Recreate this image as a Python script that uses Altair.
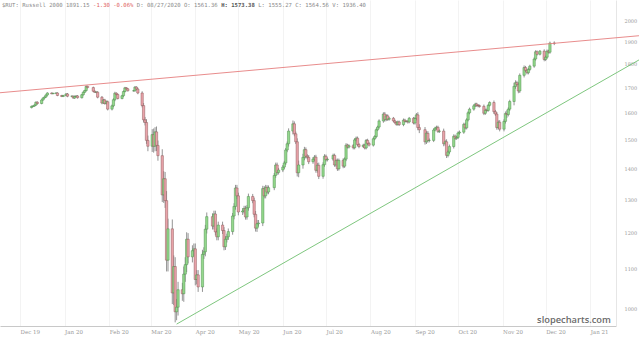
import altair as alt
import pandas as pd

# ---------------- data ----------------
holidays = ["2019-12-25", "2020-01-01", "2020-01-20", "2020-02-17", "2020-04-10",
            "2020-05-25", "2020-07-03", "2020-09-07", "2020-11-26"]

close_dec19 = [1625, 1626, 1630, 1641, 1636, 1650, 1658, 1662, 1670, 1678, 1675, 1677, 1678, 1668, 1664, 1668]
close_jan = [1674, 1665, 1665, 1658, 1664, 1666, 1659, 1671, 1681, 1688, 1705, 1700, 1685, 1681, 1681, 1661, 1638, 1650, 1636, 1643, 1614]
close_feb = [1627, 1651, 1677, 1672, 1656, 1667, 1684, 1699, 1695, 1687, 1687, 1702, 1694, 1678, 1628, 1573, 1563, 1497, 1476]
close_mar = [1518, 1476, 1528, 1479, 1443, 1313, 1365, 1295, 1122, 1210, 1037, 1105, 991, 1002, 1045, 1035, 1085, 1110, 1180, 1131, 1148, 1153]
close_apr = [1071, 1083, 1052, 1138, 1145, 1209, 1246, 1218, 1254, 1201, 1187, 1221, 1205, 1159, 1180, 1187, 1202, 1248, 1277, 1335, 1310]
close_may = [1260, 1263, 1271, 1245, 1273, 1308, 1295, 1253, 1212, 1225, 1227, 1333, 1310, 1337, 1322, 1336, 1376, 1411, 1386, 1394]
close_jun = [1404, 1418, 1463, 1485, 1531, 1558, 1521, 1492, 1385, 1411, 1437, 1464, 1441, 1437, 1422, 1431, 1438, 1393, 1410, 1373, 1412, 1441]
close_jul = [1429, 1431, 1444, 1411, 1426, 1398, 1427, 1407, 1431, 1480, 1473, 1478, 1471, 1499, 1505, 1482, 1475, 1480, 1470, 1497, 1486, 1480]
close_aug = [1503, 1511, 1536, 1546, 1569, 1595, 1574, 1588, 1575, 1579, 1569, 1563, 1556, 1565, 1555, 1572, 1567, 1567, 1565, 1579, 1561]
close_sep = [1578, 1592, 1544, 1536, 1492, 1523, 1497, 1497, 1535, 1542, 1545, 1530, 1531, 1485, 1492, 1444, 1456, 1475, 1512, 1505, 1508]
close_oct = [1524, 1527, 1556, 1543, 1573, 1600, 1614, 1627, 1634, 1628, 1627, 1625, 1598, 1610, 1609, 1629, 1640, 1604, 1595, 1544, 1564, 1538]
close_nov = [1567, 1597, 1593, 1614, 1644, 1705, 1720, 1713, 1686, 1751, 1784, 1772, 1762, 1776, 1790, 1821, 1853, 1842, 1856, 1819]
close_dec20 = [1829, 1856, 1851, 1892, 1891]

wick_dec19 = [6, 5, 5, 7, 8, 6, 5, 5, 6, 6, 4, 3, 4, 6, 5, 5]
wick_jan = [7, 8, 6, 6, 8, 6, 7, 6, 7, 6, 8, 6, 8, 6, 7, 9, 10, 8, 9, 8, 10]
wick_feb = [10, 12, 12, 8, 8, 7, 9, 8, 6, 6, 7, 8, 7, 10, 14, 20, 22, 25, 35]
wick_mar = [40, 45, 35, 40, 35, 45, 50, 45, 60, 60, 55, 60, 50, 40, 40, 35, 40, 40, 40, 35, 30, 30]
wick_apr = [30, 25, 25, 25, 25, 25, 25, 20, 20, 20, 20, 20, 20, 20, 18, 18, 18, 18, 20, 20, 20]
wick_may = [20, 18, 16, 16, 16, 18, 16, 18, 20, 22, 18, 18, 16, 16, 14, 14, 16, 16, 16, 14]
wick_jun = [14, 14, 14, 16, 20, 25, 18, 16, 25, 30, 25, 20, 16, 14, 16, 14, 14, 16, 16, 18, 16, 14]
wick_jul = [12, 12, 12, 12, 12, 14, 12, 14, 12, 14, 10, 10, 12, 12, 12, 12, 12, 10, 10, 10, 12, 10]
wick_aug = [10, 10, 10, 10, 12, 14, 16, 12, 12, 10, 10, 10, 10, 10, 10, 12, 10, 8, 12, 10, 10]
wick_sep = [12, 14, 20, 25, 20, 16, 16, 14, 12, 10, 12, 12, 12, 18, 14, 18, 14, 14, 14, 12, 12]
wick_oct = [12, 12, 12, 12, 12, 12, 12, 12, 10, 10, 12, 10, 14, 12, 12, 10, 10, 16, 14, 16, 14, 16]
wick_nov = [16, 16, 25, 14, 14, 30, 20, 16, 18, 16, 18, 14, 14, 14, 12, 14, 14, 12, 10, 16]
wick_dec20 = [14, 14, 12, 14, 16]

first_open = 1620

# trend lines (date, price) end points
red_dates = ["2019-11-17", "2021-02-04"]
red_prices = [1679, 1926]
green_dates = ["2020-03-19", "2021-02-04"]
green_prices = [962, 1817]

y_ticks = [1000, 1100, 1200, 1300, 1400, 1500, 1600, 1700, 1800, 1900, 2000]
month_ticks = [(2019, 12)] + [(2020, m) for m in range(1, 13)] + [(2021, 1)]

header_parts = [("$RUT: Russell 2000 1891.15 ", "#8a8a8a", "normal"),
                ("-1.30 -0.06% ", "#e06060", "normal"),
                ("D: 08/27/2020 O: 1561.36 ", "#8a8a8a", "normal"),
                ("H: 1573.38 ", "#555555", "bold"),
                ("L: 1555.27 C: 1564.56 V: 1936.40", "#8a8a8a", "normal")]

# ---------------- build table ----------------
closes = (close_dec19 + close_jan + close_feb + close_mar + close_apr + close_may + close_jun +
          close_jul + close_aug + close_sep + close_oct + close_nov + close_dec20)
wicks = (wick_dec19 + wick_jan + wick_feb + wick_mar + wick_apr + wick_may + wick_jun +
         wick_jul + wick_aug + wick_sep + wick_oct + wick_nov + wick_dec20)
dates = [d.strftime("%Y-%m-%d") for d in pd.bdate_range("2019-12-09", "2020-12-07")
         if d.strftime("%Y-%m-%d") not in holidays]
n = min(len(closes), len(wicks), len(dates))
opens = [first_open] + closes[:n - 1]
rows = []
for i in range(n):
    o, c, w = opens[i], closes[i], wicks[i]
    rows.append({"date": dates[i], "open": o, "close": c,
                 "high": max(o, c) + w * 0.5, "low": min(o, c) - w * 0.5,
                 "dir": "up" if c >= o else "down"})
df = pd.DataFrame(rows)

x_scale = alt.Scale(domain=[alt.DateTime(year=2019, month=11, date=17),
                            alt.DateTime(year=2021, month=1, date=19)], nice=False, padding=0)
y_scale = alt.Scale(type="log", domain=[957.6, 2099], nice=False, padding=0)

x_axis = alt.Axis(values=[alt.DateTime(year=y, month=m, date=1) for y, m in month_ticks],
                  format="%b %y", labelAlign="left", labelFontSize=5.5, labelColor="#999999",
                  labelFont="DejaVu Serif", ticks=False, labelPadding=3, domainColor="#c8c8c8",
                  grid=True, gridColor="#f0f0f0", gridWidth=0.8, title=None)
y_axis = alt.Axis(orient="right", values=y_ticks, format="d", labelFontSize=5,
                  labelColor="#999999", labelFont="DejaVu Serif", ticks=False, labelPadding=8,
                  grid=False, domainColor="#e6e6e6", title=None)

base = alt.Chart(df)

wick_layer = base.mark_rule(color="#666666", strokeWidth=0.7).encode(
    x=alt.X("date:T", scale=x_scale, axis=x_axis),
    y=alt.Y("low:Q", scale=y_scale, axis=y_axis),
    y2="high:Q",
)

body_layer = base.mark_bar(size=2.3, strokeWidth=0.5).encode(
    x=alt.X("date:T", scale=x_scale, axis=x_axis),
    y=alt.Y("open:Q", scale=y_scale, axis=y_axis),
    y2="close:Q",
    fill=alt.Fill("dir:N", scale=alt.Scale(domain=["up", "down"], range=["#94d98c", "#eaa3aa"]), legend=None),
    stroke=alt.Stroke("dir:N", scale=alt.Scale(domain=["up", "down"], range=["#4f8f4f", "#8f5a5a"]), legend=None),
)

red_df = pd.DataFrame({"date": red_dates, "price": red_prices})
green_df = pd.DataFrame({"date": green_dates, "price": green_prices})

red_line = alt.Chart(red_df).mark_line(color="#e57f7f", strokeWidth=0.9, clip=False).encode(
    x=alt.X("date:T", scale=x_scale, axis=x_axis),
    y=alt.Y("price:Q", scale=y_scale, axis=y_axis),
)
green_line = alt.Chart(green_df).mark_line(color="#6fbf6f", strokeWidth=0.9, clip=False).encode(
    x=alt.X("date:T", scale=x_scale, axis=x_axis),
    y=alt.Y("price:Q", scale=y_scale, axis=y_axis),
)

# header text pieces (monospace)
fs = 5.6
cw = fs * 0.602
layers_txt = []
pos = 2.0
for txt, col, wt in header_parts:
    layers_txt.append(
        alt.Chart(pd.DataFrame({"t": [txt]})).mark_text(
            font="DejaVu Sans Mono", fontSize=fs, color=col, fontWeight=wt,
            align="left", baseline="middle").encode(
            text="t:N", x=alt.value(pos), y=alt.value(5))
    )
    pos += len(txt) * cw

watermark = alt.Chart(pd.DataFrame({"t": ["slopecharts.com"]})).mark_text(
    font="Open Sans", fontSize=9.3, fontWeight=600, color="#6a6a6a",
    align="center", baseline="middle").encode(
    text="t:N", x=alt.value(574), y=alt.value(320))

chart = alt.layer(wick_layer, body_layer, red_line, green_line, watermark, *layers_txt).properties(
    width=616, height=326,
    padding={"left": 0, "top": 0, "right": 24, "bottom": 12},
    autosize=alt.AutoSizeParams(type="none"),
    background="white",
).configure_view(stroke=None)

chart.save("out.html", embed_options={"renderer": "svg", "actions": False})
